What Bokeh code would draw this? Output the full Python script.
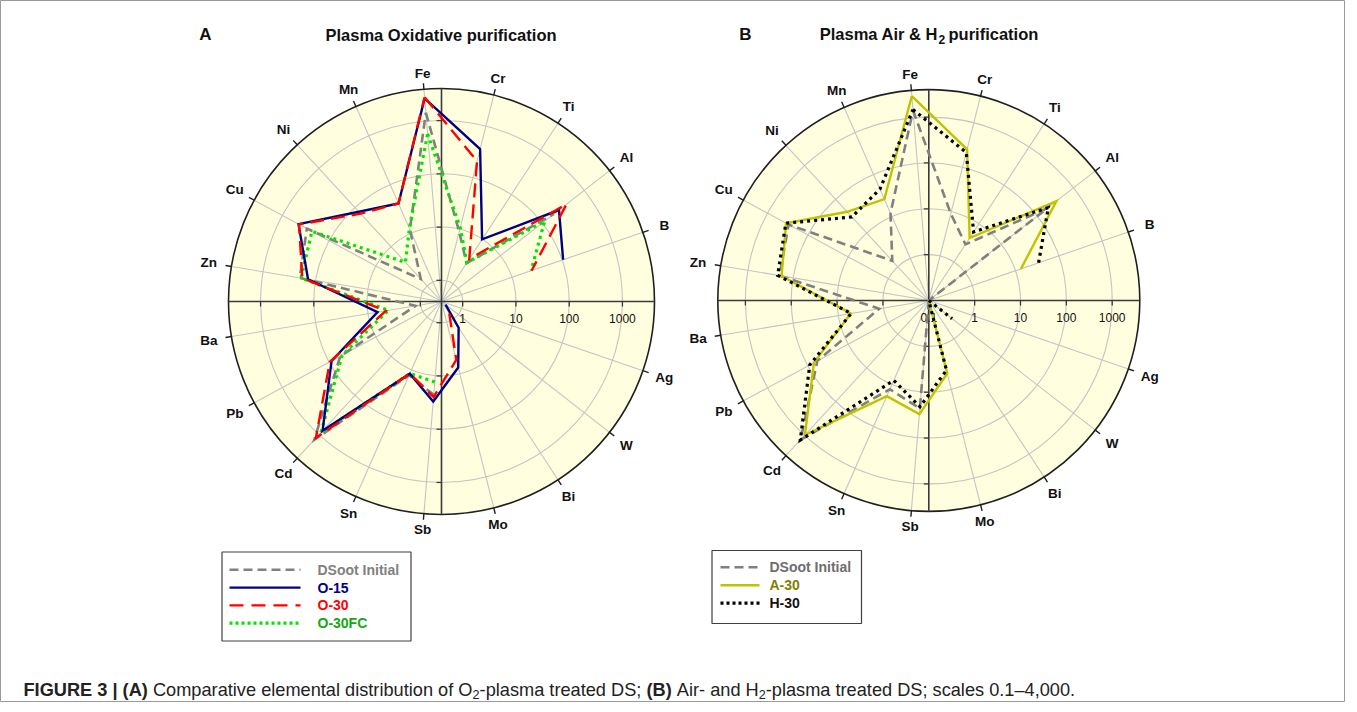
import math
from bokeh.plotting import figure
from bokeh.models import Range1d
from bokeh.core.properties import value
from bokeh.embed import file_html
from bokeh.resources import INLINE

NaN = float("nan")

# 19 spoke positions (one unlabeled slot lies on the horizontal axis)
elements = ["Fe", "Cr", "Ti", "Al", "B", "", "Ag", "W", "Bi", "Mo", "Sb",
            "Sn", "Cd", "Pb", "Ba", "Zn", "Cu", "Ni", "Mn"]

# concentrations (log radial scale)
dsoot_initial = [1450, 9, 2.9, 190, 0.1, NaN, 0.1, 0.1, 0.1, 0.1, 23, 13, 1350, 58, 1.25, 200, 300, 1.5, 12]
o_15 = [2700, 360, 9.9, 250, 104, NaN, 0.1, 0.5, 1.55, 7.6, 30.6, 12.1, 794, 89, 6.6, 139, 452, 78, 41]
o_30 = [2820, 210, 3.6, 378, 24.7, NaN, 0.1, 0.1, 0.74, 5.4, 25.3, 12, 1217, 97, 4.6, 179, 440, 70, 41]
o_30fc = [576, 10.8, 3.0, 114, 24, NaN, NaN, NaN, NaN, NaN, 13.2, 12, 877, 53, 4.1, 189, 234, 4.0, 12.7]
a_30 = [2980, 252, 4.25, 336, 13.3, NaN, 0.1, 0.1, 0.1, 4.4, 30.7, 19, 975, 70.5, 5.3, 180, 346, 42.7, 25.9]
h_30 = [1514, 214, 6.1, 201, 34, NaN, 0.1, 0.44, 0.1, 3.7, 21.2, 8, 1377, 89.5, 5.2, 220, 350, 30, 45]

radial_ticks = [1, 10, 100, 1000]
radial_tick_labels = ["1", "10", "100", "1000"]

FONT = value("Liberation Sans")
GRAY = "#808080"
NAVY = "#000080"
RED = "#FF0000"
GREEN = "#00E600"
YELLOW = "#C2C200"

W, H = 1345, 702
p = figure(width=W, height=H, output_backend="svg", toolbar_location=None,
           x_range=Range1d(0, W), y_range=Range1d(H, 0), min_border=0)
p.xaxis.visible = False
p.yaxis.visible = False
p.grid.visible = False
p.outline_line_color = "#9a9a9a"
p.outline_line_width = 1
p.background_fill_color = "white"
p.border_fill_color = "white"

NSPOKE = len(elements)


def angle(k):
    return math.radians(90 + (k - 5) * 360.0 / NSPOKE)


def draw_panel(cx, cy, R, lo, hi, center_label):
    llo, lhi = math.log10(lo), math.log10(hi)

    def rad(v):
        return R * (math.log10(max(v, lo)) - llo) / (lhi - llo)

    p.circle(x=[cx], y=[cy], radius=R, fill_color="#FFFFE0", line_color=None)
    p.circle(x=[cx] * len(radial_ticks), y=[cy] * len(radial_ticks),
             radius=[rad(v) for v in radial_ticks], fill_color=None,
             line_color="#C4C4C4", line_width=1.1)
    x1 = [cx + R * math.sin(angle(k)) for k in range(NSPOKE)]
    y1 = [cy - R * math.cos(angle(k)) for k in range(NSPOKE)]
    p.segment(x0=[cx] * NSPOKE, y0=[cy] * NSPOKE, x1=x1, y1=y1,
              line_color="#C4C4C4", line_width=1.1)
    p.circle(x=[cx], y=[cy], radius=R, fill_color=None, line_color="#202020", line_width=1.6)
    p.segment(x0=[cx - R, cx], y0=[cy, cy - R], x1=[cx + R, cx], y1=[cy, cy + R],
              line_color="#3a3a3a", line_width=1.6)
    tx0, ty0, tx1, ty1 = [], [], [], []
    for v in radial_ticks:
        r = rad(v)
        for s in (-1, 1):
            tx0 += [cx + s * r]; ty0 += [cy]; tx1 += [cx + s * r]; ty1 += [cy + 5]
            tx0 += [cx]; ty0 += [cy + s * r]; tx1 += [cx - 5]; ty1 += [cy + s * r]
    p.segment(x0=tx0, y0=ty0, x1=tx1, y1=ty1, line_color="#3a3a3a", line_width=1.3)
    ox0, oy0, ox1, oy1 = [], [], [], []
    lx, ly, lt = [], [], []
    for k, name in enumerate(elements):
        a = angle(k)
        if not name:
            continue
        ox0.append(cx + R * math.sin(a)); oy0.append(cy - R * math.cos(a))
        ox1.append(cx + (R + 6) * math.sin(a)); oy1.append(cy - (R + 6) * math.cos(a))
        rl = R + 15 + 8 * abs(math.sin(a))
        lx.append(cx + rl * math.sin(a)); ly.append(cy - rl * math.cos(a)); lt.append(name)
    p.segment(x0=ox0, y0=oy0, x1=ox1, y1=oy1, line_color="#202020", line_width=1.4)
    p.text(x=lx, y=ly, text=lt, text_font=FONT, text_font_size="13.5px",
           text_font_style="bold", text_align="center", text_baseline="middle",
           text_color="#111111")
    p.text(x=[cx + rad(v) for v in radial_ticks], y=[cy + 17] * len(radial_ticks),
           text=radial_tick_labels, text_font=FONT, text_font_size="12px",
           text_align="center", text_baseline="middle", text_color="#111111")
    if center_label:
        p.text(x=[cx], y=[cy + 17], text=[center_label], text_font=FONT,
               text_font_size="12px", text_align="center", text_baseline="middle",
               text_color="#111111")


def series(vals, cx, cy, R, lo, hi, drop_below):
    llo, lhi = math.log10(lo), math.log10(hi)
    xs, ys = [], []
    for k, v in enumerate(list(vals) + [vals[0]]):
        if v != v or (drop_below and v < lo):
            xs.append(NaN); ys.append(NaN)
            continue
        a = angle(k % NSPOKE)
        r = R * (math.log10(max(v, lo)) - llo) / (lhi - llo)
        xs.append(cx + r * math.sin(a)); ys.append(cy - r * math.cos(a))
    return xs, ys


# ---------- Panel A ----------
cxA, cyA, RA, loA, hiA = 441.0, 301.0, 213.0, 0.4, 4000
draw_panel(cxA, cyA, RA, loA, hiA, None)
for vals, col, dash, lw in [(dsoot_initial, GRAY, "9 5", 2.6),
                            (o_30fc, GREEN, "3 4", 3.2),
                            (o_15, NAVY, "solid", 2.4),
                            (o_30, RED, "14 7", 2.4)]:
    xs, ys = series(vals, cxA, cyA, RA, loA, hiA, True)
    p.line(xs, ys, line_color=col, line_dash=dash, line_width=lw, line_join="miter")

# ---------- Panel B ----------
cxB, cyB, RB, loB, hiB = 928.3, 300.0, 211.0, 0.1, 4000
draw_panel(cxB, cyB, RB, loB, hiB, "0.1")
for vals, col, dash, lw in [(dsoot_initial, GRAY, "9 5", 2.6),
                            (a_30, YELLOW, "solid", 2.4),
                            (h_30, "black", "3 4", 3.2)]:
    xs, ys = series(vals, cxB, cyB, RB, loB, hiB, False)
    p.line(xs, ys, line_color=col, line_dash=dash, line_width=lw, line_join="miter")

# ---------- titles ----------
p.text(x=[205, 745], y=[34, 34], text=["A", "B"], text_font=FONT, text_font_size="17px",
       text_font_style="bold", text_align="center", text_baseline="middle", text_color="#111111")
p.text(x=[440.5], y=[34], text=["Plasma Oxidative purification"], text_font=FONT,
       text_font_size="16.5px", text_font_style="bold", text_align="center",
       text_baseline="middle", text_color="#111111")
p.text(x=[937.5], y=[33], text=["Plasma Air & H"], text_font=FONT, text_font_size="16.5px",
       text_font_style="bold", text_align="right", text_baseline="middle", text_color="#111111")
p.text(x=[938], y=[39], text=["2"], text_font=FONT, text_font_size="12px",
       text_font_style="bold", text_align="left", text_baseline="middle", text_color="#111111")
p.text(x=[948], y=[33], text=["purification"], text_font=FONT, text_font_size="16.5px",
       text_font_style="bold", text_align="left", text_baseline="middle", text_color="#111111")

# ---------- legends ----------
legA = [("DSoot Initial", GRAY, GRAY, "9 5", 2.6),
        ("O-15", NAVY, NAVY, "solid", 2.4),
        ("O-30", RED, RED, "14 8", 2.4),
        ("O-30FC", GREEN, "#14A814", "3 3", 3.2)]
p.quad(left=[221.5], right=[410.5], top=[551.5], bottom=[640.5], fill_color=None,
       line_color="#404040", line_width=1.2)
for i, (lab, col, tcol, dash, lw) in enumerate(legA):
    y = 569.3 + i * 17.8
    p.line([229, 300], [y, y], line_color=col, line_dash=dash, line_width=lw)
    p.text(x=[317], y=[y], text=[lab], text_font=FONT, text_font_size="14px",
           text_font_style="bold", text_align="left", text_baseline="middle", text_color=tcol)

legB = [("DSoot Initial", GRAY, "#6e6e6e", "9 5", 2.6),
        ("A-30", YELLOW, "#808000", "solid", 2.4),
        ("H-30", "black", "#111111", "3 3", 3.2)]
p.quad(left=[711.5], right=[861], top=[550], bottom=[623], fill_color=None,
       line_color="#404040", line_width=1.2)
for i, (lab, col, tcol, dash, lw) in enumerate(legB):
    y = 566.7 + i * 18
    p.line([720, 759], [y, y], line_color=col, line_dash=dash, line_width=lw)
    p.text(x=[769], y=[y], text=[lab], text_font=FONT, text_font_size="14px",
           text_font_style="bold", text_align="left", text_baseline="middle", text_color=tcol)

# ---------- caption (pieces laid out with Arial-compatible advance widths) ----------
REG = {" ": 278, "(": 333, ")": 333, ",": 278, "-": 333, ".": 278, ";": 278, "\u2013": 556,
       "A": 667, "B": 667, "C": 722, "D": 722, "H": 722, "O": 778, "S": 667,
       "a": 556, "b": 556, "c": 500, "d": 556, "e": 556, "f": 278, "i": 222, "l": 222,
       "m": 833, "n": 556, "o": 556, "p": 556, "r": 333, "s": 500, "t": 278, "u": 556, "v": 500}
BOLD = {" ": 278, "(": 333, ")": 333, "|": 280, "A": 722, "B": 722, "E": 667, "F": 611,
        "G": 778, "I": 278, "R": 722, "U": 722}


def text_width(t, size, bold):
    tab = BOLD if bold else REG
    return sum(tab.get(c, 556) for c in t) * size / 1000.0


CAP = 18.2
SUB = 12.6
# (text, bold, subscript, space before)
cap_pieces = [("FIGURE 3 | (A)", True, False, False),
              ("Comparative elemental distribution of O", False, False, True),
              ("2", False, True, False),
              ("-plasma treated DS;", False, False, False),
              ("(B)", True, False, True),
              ("Air- and H", False, False, True),
              ("2", False, True, False),
              ("-plasma treated DS; scales 0.1\u20134,000.", False, False, False)]
xpos = 23.0
cap_y = 689
for t, bold, sub, gap in cap_pieces:
    size = SUB if sub else CAP
    if gap:
        xpos += 278 * CAP / 1000.0
    p.text(x=[xpos], y=[cap_y + (5 if sub else 0)], text=[t], text_font=FONT,
           text_font_size=f"{size}px", text_font_style="bold" if bold else "normal",
           text_align="left", text_baseline="middle", text_color="#222222")
    xpos += text_width(t, size, bold)

open("out.html", "w").write(file_html(p, INLINE))
